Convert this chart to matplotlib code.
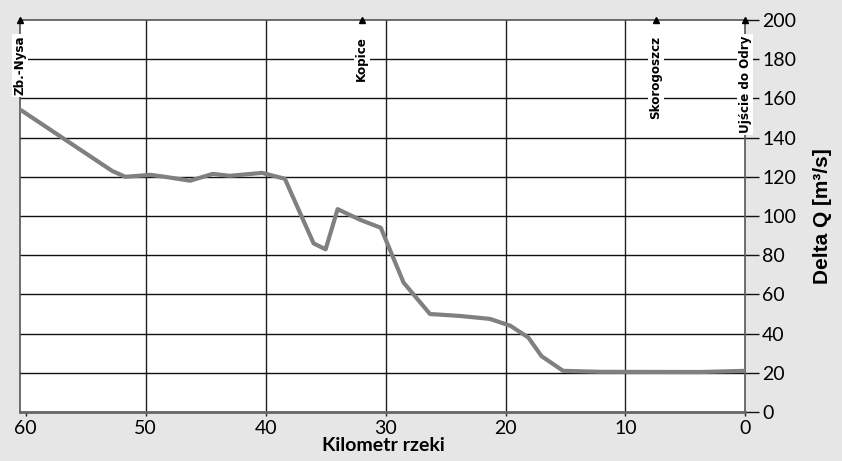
import matplotlib.pyplot as plt

# river profile: kilometre vs flow increment
km = [60.4, 52.8, 51.7, 49.6, 48.4, 46.3, 44.4, 43.0, 40.3, 38.4, 36.0, 35.0,
      34.0, 32.1, 30.4, 28.5, 26.3, 23.8, 21.3, 19.6, 18.1, 17.0, 15.2, 12.1,
      3.8, 0.0]
delta_q = [154, 123, 120, 121, 120, 118, 121.5, 120.5, 122, 119, 86, 83,
           103.5, 98, 94, 66, 50, 49, 47.5, 44, 38, 28.5, 21, 20.5, 20.4, 21]

stations = ["Zb.-Nysa", "Kopice", "Skorogoszcz", "Ujście do Odry"]
station_km = [60.45, 32.0, 7.45, 0.0]

x_ticks = [60, 50, 40, 30, 20, 10, 0]
y_ticks = [0, 20, 40, 60, 80, 100, 120, 140, 160, 180, 200]

label_font = ["Lato", "DejaVu Sans"]
narrow_font = ["DejaVu Sans Condensed", "Liberation Sans Narrow", "DejaVu Sans"]

fig = plt.figure(figsize=(8.42, 4.61), dpi=100, facecolor="#e6e6e6")
ax = fig.add_axes([0.0242, 0.1063, 0.8611, 0.8503])
ax.set_facecolor("white")

ax.set_xlim(60.45, 0)
ax.set_ylim(0, 200)

for x in x_ticks[1:-1]:
    ax.axvline(x, color="#222222", lw=1.0, zorder=1)
for y in y_ticks[1:-1]:
    ax.axhline(y, color="#111111", lw=1.0, zorder=1)

ax.plot(km, delta_q, color="#808080", lw=3, solid_joinstyle="round", zorder=3)

ax.yaxis.tick_right()
ax.yaxis.set_label_position("right")
ax.set_xticks(x_ticks)
ax.set_yticks(y_ticks)
ax.tick_params(axis="y", direction="out", length=10, width=1.0, color="#111111",
               pad=2, labelsize=14)
ax.tick_params(axis="x", direction="out", length=3, width=1.0, color="#222222",
               pad=3, labelsize=14)
for lab in ax.get_xticklabels() + ax.get_yticklabels():
    lab.set_family(label_font)

for side in ["left", "right", "top"]:
    ax.spines[side].set_color("#555555")
    ax.spines[side].set_linewidth(1.2)
ax.spines["bottom"].set_color("#666666")
ax.spines["bottom"].set_linewidth(2)

ax.set_xlabel("Kilometr rzeki", family=label_font, fontweight="bold",
              fontsize=14, labelpad=0)
ax.set_ylabel("Delta Q [m³/s]", family=["Liberation Sans", "DejaVu Sans"],
              fontweight="bold", fontsize=15, labelpad=12)

# station markers along the top edge
for name, pos in zip(stations, station_km):
    ax.plot(pos, 200, marker="^", color="black", markersize=5,
            clip_on=False, zorder=5)
    ax.text(pos, 192, name, rotation=90, ha="center", va="top",
            family=narrow_font, fontsize=9.5, fontweight="bold",
            fontstretch="condensed",
            bbox=dict(facecolor="white", edgecolor="none", pad=1),
            zorder=6, clip_on=False)

fig.savefig("out.png", dpi=100, facecolor=fig.get_facecolor())
